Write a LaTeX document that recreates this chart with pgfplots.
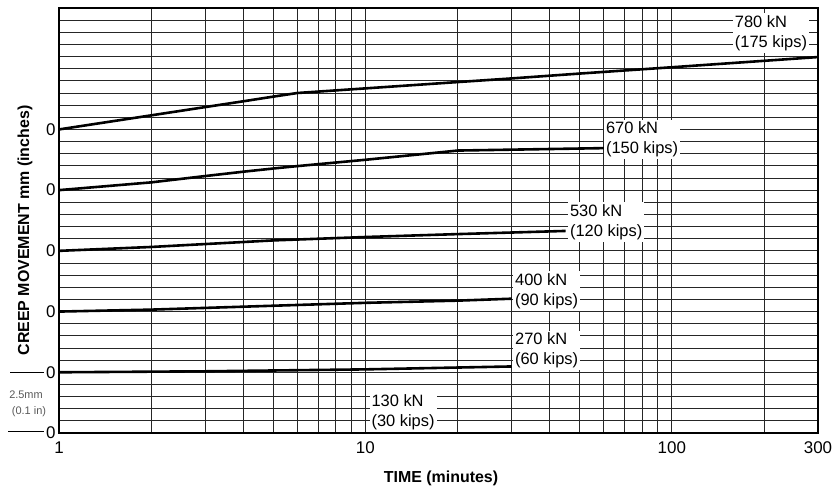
\documentclass[border=0pt]{standalone}
\usepackage{pgfplots}
\pgfplotsset{compat=1.18}
\usepackage{fontspec}
\setmainfont{Liberation Sans}
\tikzset{lab/.style={fill=white, inner sep=2bp, align=left, anchor=west, font=\fontsize{16.5}{20}\selectfont}}
\begin{document}
\begin{tikzpicture}
\path[use as bounding box] (0,0) rectangle (835bp,489bp);
\begin{axis}[
  at={(59bp,56bp)}, anchor=south west,
  scale only axis, width=759bp, height=425bp,
  xmode=log, xmin=1, xmax=300, ymin=0, ymax=17.5,
  xtick={1,10,100,300}, xticklabels={1,10,100,300},
  minor xtick={2,3,4,5,6,7,8,9,20,30,40,50,60,70,80,90,200},
  ytick={0,2.5,5,7.5,10,12.5}, yticklabels={0,0,0,0,0,0},
  minor ytick={0.5,1,1.5,2,3,3.5,4,4.5,5.5,6,6.5,7,8,8.5,9,9.5,10.5,11,11.5,12,13,13.5,14,14.5,15,15.5,16,16.5,17},
  grid=both,
  major grid style={black!85, line width=0.8bp},
  minor grid style={black!85, line width=0.8bp},
  major tick length=0pt, minor tick length=0pt,
  axis line style={black, line width=1.4bp},
  tick label style={font=\fontsize{17}{19}\selectfont},
  xticklabel style={yshift=-5bp},
  /pgf/number format/assume math mode=true,
  clip=false,
]
% 780 kN (175 kips), zero at 12.5
\addplot[black, line width=2.6bp, line join=round] coordinates {
 (1,12.5) (2,13.08) (3,13.42) (4,13.66) (5,13.85) (6,14.00) (10,14.19) (20,14.45) (30,14.60) (50,14.80) (100,15.06) (300,15.48)};
% 670 kN (150 kips), zero at 10
\addplot[black, line width=2.6bp, line join=round] coordinates {
 (1,10) (2,10.32) (3,10.58) (4,10.76) (5,10.89) (6,10.99) (10,11.25) (20,11.63) (60,11.73)};
% 530 kN (120 kips), zero at 7.5
\addplot[black, line width=2.6bp, line join=round] coordinates {
 (1,7.5) (2,7.66) (3,7.78) (5,7.93) (10,8.07) (20,8.19) (45,8.32)};
% 400 kN (90 kips), zero at 5
\addplot[black, line width=2.6bp, line join=round] coordinates {
 (1,5) (2,5.08) (5,5.24) (10,5.36) (20,5.45) (30,5.53)};
% 270 kN (60 kips), zero at 2.5
\addplot[black, line width=2.6bp, line join=round] coordinates {
 (1,2.5) (3,2.54) (10,2.62) (30,2.74)};
% 130 kN (30 kips), zero at 0
\addplot[black, line width=2.6bp] coordinates {(1,0) (10,0)};

\node[lab] at (axis cs:158,16.47) {780 kN\\(175 kips)};
\node[lab] at (axis cs:60,12.10) {670 kN\\(150 kips)};
\node[lab] at (axis cs:45.8,8.69) {530 kN\\(120 kips)};
\node[lab] at (axis cs:30.3,5.85) {400 kN\\(90 kips)};
\node[lab] at (axis cs:30.3,3.40) {270 kN\\(60 kips)};
\node[lab] at (axis cs:10.3,0.86) {130 kN\\(30 kips)};
\end{axis}
\draw[line width=1bp] (10bp,116bp) -- (44bp,116bp);
\draw[line width=1bp] (8bp,57bp) -- (44bp,57bp);
\node[font=\fontsize{11}{12}\selectfont, text=black!65] at (26bp,94bp) {2.5mm};
\node[font=\fontsize{11}{12}\selectfont, text=black!65] at (29bp,77bp) {(0.1 in)};
\node[font=\bfseries\fontsize{16}{19}\selectfont, rotate=90] at (25bp,258.5bp) {CREEP MOVEMENT mm (inches)};
\node[font=\bfseries\fontsize{16}{19}\selectfont] at (441bp,11bp) {TIME (minutes)};
\end{tikzpicture}
\end{document}
